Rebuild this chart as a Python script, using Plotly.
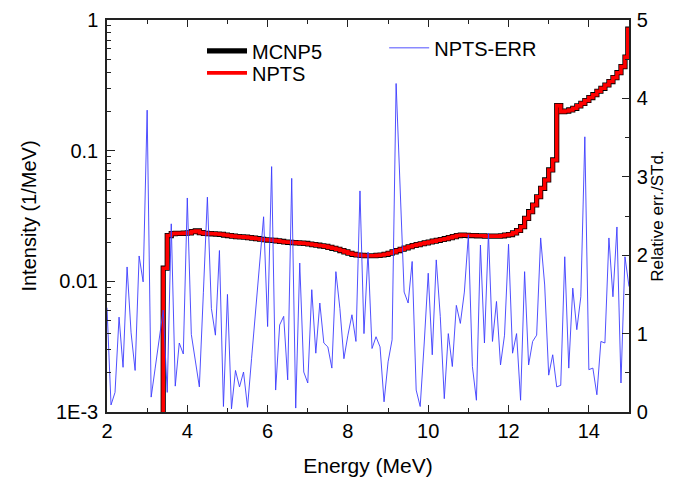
import numpy as np
import plotly.graph_objects as go

# ---- Spectrum (histogram, 0.1 MeV bins, left edges) ----
spec_edges = [round(3.3 + 0.1 * i, 1) for i in range(117)] + [14.97, 15.0]
spec_vals = [
    1e-5, 0.0126, 0.0224, 0.0232, 0.0233, 0.0233, 0.0234, 0.0235, 0.0240, 0.0243,
    0.0236, 0.0233, 0.0232, 0.0231, 0.0230, 0.0229, 0.0226, 0.0224, 0.0222, 0.0220,
    0.0219, 0.0218, 0.0216, 0.0214, 0.0212, 0.0210, 0.0208, 0.0207, 0.0206, 0.0204,
    0.0202, 0.0200, 0.0199, 0.0198, 0.0197, 0.0196, 0.0195, 0.0193, 0.0191, 0.0189,
    0.0187, 0.0185, 0.0182, 0.0179, 0.0176, 0.0172, 0.0168, 0.0164, 0.0161, 0.0159,
    0.0158, 0.0157, 0.0157, 0.0157, 0.0158, 0.0159, 0.0161, 0.0164, 0.0168, 0.0172,
    0.0176, 0.0180, 0.0184, 0.0188, 0.0191, 0.0194, 0.0197, 0.0200, 0.0203, 0.0206,
    0.0209, 0.0212, 0.0216, 0.0220, 0.0224, 0.0226, 0.0225, 0.0224, 0.0224, 0.0223,
    0.0223, 0.0222, 0.0222, 0.0222, 0.0222, 0.0223, 0.0226, 0.0228, 0.0235, 0.0245,
    0.0262, 0.0303, 0.0341, 0.0384, 0.0444, 0.0515, 0.0597, 0.0712, 0.0849, 0.221,
    0.199, 0.201, 0.205, 0.211, 0.220, 0.230, 0.242, 0.255, 0.268, 0.285,
    0.300, 0.318, 0.338, 0.362, 0.395, 0.440, 0.520, 0.850, 0.850,
]
mcnp_vals = spec_vals
npts_vals = spec_vals

# ---- Relative error (right axis) ----
err_energy = [round(2.0 + 0.1 * k, 1) for k in range(131)]
err_vals = [
    1.33, 0.09, 0.25, 1.21, 0.57, 1.85, 1.01, 0.53, 1.99, 1.66,
    3.85, 0.19, 0.56, 0.92, 1.30, 0.25, 2.40, 0.33, 0.88, 0.74,
    2.73, 0.99, 0.68, 0.32, 1.52, 2.74, 1.32, 0.98, 2.06, 0.07,
    1.50, 0.04, 0.53, 0.32, 0.51, 0.06, 0.68, 1.28, 1.89, 2.49,
    1.09, 3.13, 0.28, 1.11, 1.22, 0.41, 2.98, 0.05, 1.90, 0.51,
    0.37, 1.56, 0.75, 1.39, 0.88, 0.83, 0.56, 1.79, 1.32, 0.68,
    0.98, 1.24, 0.90, 2.82, 1.00, 2.04, 0.81, 0.96, 0.83, 0.13,
    0.64, 0.92, 4.19, 2.85, 1.53, 1.39, 1.92, 0.28, 0.07, 0.88,
    1.77, 0.73, 1.94, 1.22, 0.17, 1.00, 0.58, 1.36, 1.13, 1.53,
    2.26, 0.58, 0.15, 2.13, 0.88, 2.28, 0.90, 1.41, 0.60, 0.98,
    2.14, 0.75, 1.00, 0.15, 1.79, 0.60, 0.90, 0.98, 2.22, 1.62,
    0.47, 0.73, 0.32, 0.34, 1.98, 0.56, 1.58, 1.05, 1.47, 3.51,
    0.54, 0.56, 0.22, 0.90, 0.88, 2.22, 1.47, 2.36, 0.37, 1.98,
    1.60,
]

left_tickvals = [0.001, 0.01, 0.1, 1]
left_ticktext = ["1E-3", "0.01", "0.1", "1"]
left_minor = [m * 10.0 ** e for e in (-3, -2, -1) for m in range(2, 10)]

FONT = "Liberation Sans, Arial, sans-serif"
AX = "#222222"

fig = go.Figure()
fig.add_trace(go.Scatter(
    x=err_energy, y=err_vals, yaxis="y2", mode="lines", name="NPTS-ERR",
    line=dict(color="rgb(60,60,255)", width=0.9), legend="legend2"))
fig.add_trace(go.Scatter(
    x=spec_edges, y=mcnp_vals, mode="lines", name="MCNP5",
    line=dict(color="black", width=5.2, shape="hv"), legend="legend"))
fig.add_trace(go.Scatter(
    x=spec_edges, y=npts_vals, mode="lines", name="NPTS",
    line=dict(color="#ff0000", width=3.6, shape="hv"), legend="legend3"))

leg_common = dict(xanchor="left", yanchor="middle", bgcolor="rgba(0,0,0,0)",
                  font=dict(size=20), itemwidth=40)

fig.update_layout(
    width=665, height=474,
    margin=dict(l=99, r=44, t=12, b=70),
    paper_bgcolor="white", plot_bgcolor="white",
    font=dict(family=FONT, size=20, color="black"),
    showlegend=True,
    legend=dict(x=0.182, y=0.921, **leg_common),
    legend3=dict(x=0.182, y=0.865, **leg_common),
    legend2=dict(x=0.531, y=0.929, **leg_common),
    xaxis=dict(
        range=[2, 15], dtick=2, tick0=2, ticks="inside", ticklen=7, tickwidth=1.3,
        tickcolor=AX, showline=True, linecolor=AX, linewidth=1.5, mirror="ticks",
        showgrid=False, zeroline=False,
        minor=dict(dtick=1, ticks="inside", ticklen=4, tickcolor=AX, tickwidth=1.2, showgrid=False),
        title=dict(text="Energy (MeV)", font=dict(size=21), standoff=18),
        tickfont=dict(size=20), automargin=False,
    ),
    yaxis=dict(
        type="log", range=[-3, 0], tickvals=left_tickvals, ticktext=left_ticktext,
        ticks="inside", ticklen=8, tickwidth=1.3, tickcolor=AX, ticklabelstandoff=3,
        showline=True, linecolor=AX, linewidth=1.5, showgrid=False, zeroline=False,
        minor=dict(tickvals=left_minor, ticks="inside", ticklen=4, tickcolor=AX,
                   tickwidth=1.2, showgrid=False),
        title=dict(text="Intensity (1/MeV)", font=dict(size=20), standoff=14),
        tickfont=dict(size=20), automargin=False,
    ),
    yaxis2=dict(
        overlaying="y", side="right", range=[0, 5], dtick=1, tick0=0,
        ticks="inside", ticklen=7, tickwidth=1.3, tickcolor=AX, ticklabelstandoff=2,
        showline=True, linecolor=AX, linewidth=1.5, showgrid=False, zeroline=False,
        minor=dict(dtick=0.5, ticks="inside", ticklen=4, tickcolor=AX, tickwidth=1.2,
                   showgrid=False),
        title=dict(text="Relative err./STd.", font=dict(size=17), standoff=4),
        tickfont=dict(size=20), automargin=False,
    ),
)

fig.write_html("out.html")
